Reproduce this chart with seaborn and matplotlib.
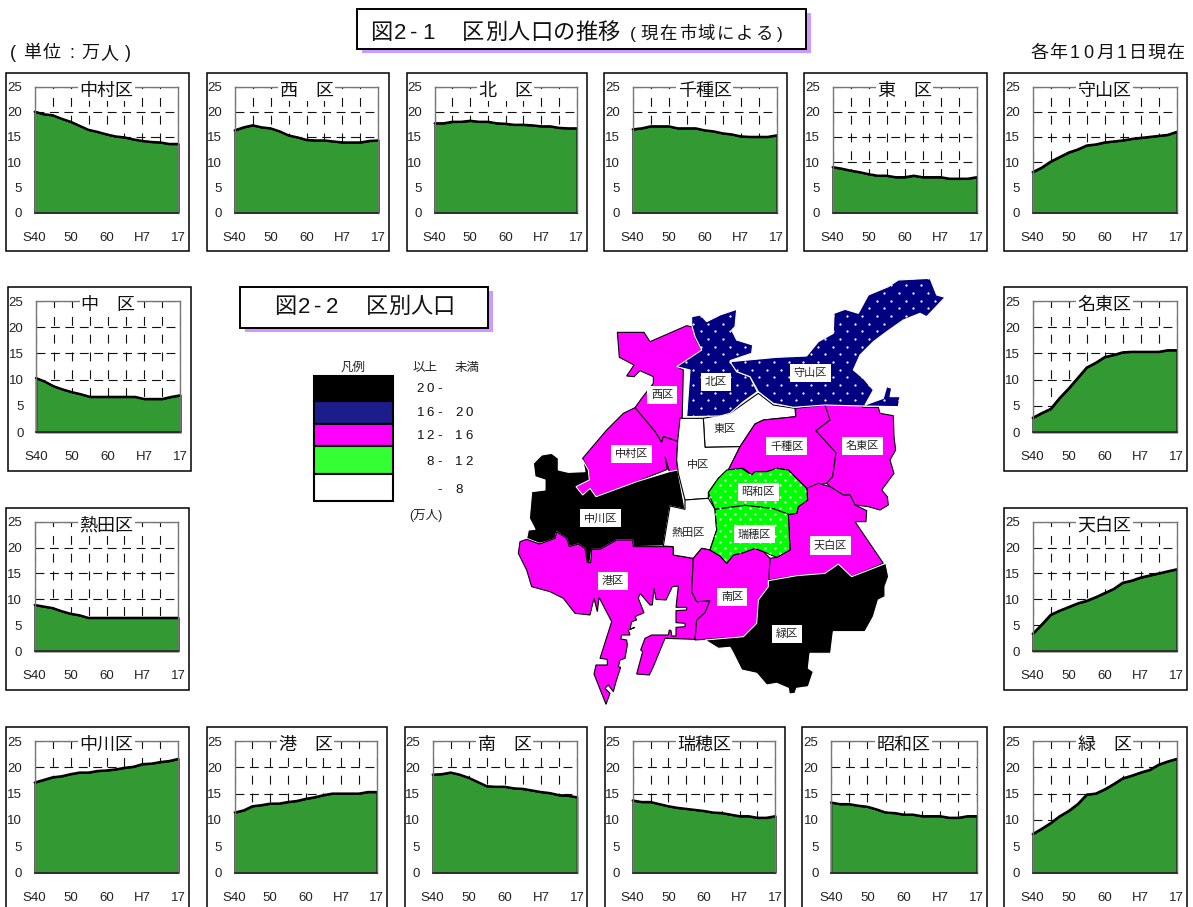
#!/usr/bin/env python3
"""
Ward population trends and ward population map
"""

import pandas as pd
import matplotlib
matplotlib.use('Agg')
import matplotlib.pyplot as plt
import seaborn as sns
import numpy as np
from matplotlib.patches import Polygon, Rectangle

W, H = 1193, 907
JP = ['Noto Sans CJK JP', 'DejaVu Sans']
MIXED = ['Liberation Sans', 'Noto Sans CJK JP', 'DejaVu Sans']

sns.set_theme(style='white')
plt.rcParams['font.family'] = MIXED

# Population (10,000 people), one value every 2.5 years from S40 to H17
nakamura = [20, 19.5, 19.3, 18.6, 18, 17.2, 16.4, 16, 15.5, 15.1, 14.9, 14.5, 14.2, 14, 13.9, 13.6, 13.6]
nishi = [16.3, 16.9, 17.3, 16.9, 16.7, 16.1, 15.3, 14.9, 14.4, 14.3, 14.3, 14.1, 13.9, 13.9, 13.9, 14.2, 14.3]
kita = [17.7, 17.7, 18, 18, 18.2, 18, 18, 17.7, 17.6, 17.4, 17.4, 17.3, 17.1, 17.1, 16.8, 16.7, 16.7]
chikusa = [16.5, 16.7, 17.1, 17.1, 17.1, 16.7, 16.7, 16.7, 16.3, 16.1, 15.7, 15.5, 15.1, 15, 15, 15, 15.3]
higashi = [9, 8.7, 8.3, 8, 7.6, 7.3, 7.3, 7, 7, 7.3, 7, 7, 7, 6.7, 6.7, 6.7, 7]
moriyama = [8, 8.9, 10.1, 11, 11.9, 12.5, 13.3, 13.5, 13.9, 14.1, 14.3, 14.6, 14.8, 15, 15.2, 15.4, 16]
naka = [10.3, 9.6, 8.7, 8.1, 7.6, 7.2, 6.7, 6.7, 6.7, 6.7, 6.7, 6.7, 6.3, 6.3, 6.3, 6.7, 7]
atsuta = [8.9, 8.6, 8.3, 7.7, 7.2, 6.9, 6.4, 6.4, 6.4, 6.4, 6.4, 6.4, 6.4, 6.4, 6.4, 6.4, 6.4]
meito = [2.7, 3.6, 4.4, 6.5, 8.3, 10.3, 12.3, 13.2, 14.3, 14.7, 15.2, 15.3, 15.3, 15.3, 15.3, 15.6, 15.6]
tempaku = [3.3, 5.1, 7, 7.8, 8.5, 9.2, 9.7, 10.4, 11.2, 12, 13.2, 13.6, 14.2, 14.6, 15, 15.4, 15.8]
nakagawa = [17.1, 17.6, 18.1, 18.3, 18.7, 19, 19, 19.3, 19.4, 19.6, 19.9, 20.1, 20.6, 20.7, 21, 21.2, 21.6]
minato = [11.4, 11.8, 12.6, 12.8, 13.1, 13.1, 13.4, 13.6, 14, 14.3, 14.7, 15, 15, 15, 15, 15.3, 15.3]
minami = [18.6, 18.7, 19, 18.6, 18, 17.2, 16.4, 16.3, 16.3, 16, 15.9, 15.6, 15.3, 15.1, 14.7, 14.6, 14.3]
mizuho = [13.7, 13.4, 13.4, 13, 12.6, 12.3, 12.1, 11.9, 11.7, 11.4, 11.3, 11, 10.7, 10.7, 10.4, 10.4, 10.7]
showa = [13.3, 13, 13, 12.7, 12.5, 12, 11.4, 11.3, 11, 11, 10.7, 10.7, 10.7, 10.4, 10.4, 10.7, 10.7]
midori = [7.3, 8.3, 9.4, 10.7, 11.7, 13, 14.8, 15, 15.8, 16.8, 17.9, 18.4, 19, 19.5, 20.5, 21.1, 21.6]

period = list(range(17))
x_ticks = [0, 2, 4, 6, 8, 10, 12, 14, 16]
x_labels = ['S40', '', '50', '', '60', '', 'H7', '', '17']
y_ticks = [0, 5, 10, 15, 20, 25]

# title, values, box (left, top, right, bottom), plot area (left, top, right, bottom) in pixels
panels = [
    ('中村区', nakamura, (6, 72.5, 189, 251), (34.7, 86.5, 178.3, 212.5)),
    ('西　区', nishi, (207, 72.5, 389, 251), (234.7, 86.5, 378.3, 212.5)),
    ('北　区', kita, (406.7, 72.5, 587, 251), (434.7, 86.5, 576.7, 212.5)),
    ('千種区', chikusa, (604, 72.5, 787, 251), (632.7, 86.5, 776.7, 212.5)),
    ('東　区', higashi, (804.3, 72.5, 987, 251), (832.7, 86.5, 976.7, 212.5)),
    ('守山区', moriyama, (1004, 72.5, 1187, 251), (1032.7, 86.5, 1176.7, 212.5)),
    ('中　区', naka, (8, 287, 190.7, 471), (36, 301, 180.3, 432)),
    ('名東区', meito, (1004.3, 287, 1187.3, 471), (1032.7, 301, 1176.7, 432)),
    ('熱田区', atsuta, (6, 507.7, 189, 690), (34.7, 521.7, 178.3, 651)),
    ('天白区', tempaku, (1004.3, 507.7, 1187.3, 690), (1032.7, 521.7, 1176.7, 651)),
    ('中川区', nakagawa, (6, 727, 189, 912), (34.7, 741, 178.3, 872.5)),
    ('港　区', minato, (206.7, 727, 387, 912), (234.7, 741, 376.7, 872.5)),
    ('南　区', minami, (404.7, 727, 587.3, 912), (432.7, 741, 577, 872.5)),
    ('瑞穂区', mizuho, (604.7, 727, 785.3, 912), (632.7, 741, 775.3, 872.5)),
    ('昭和区', showa, (802.3, 727, 987.3, 912), (831, 741, 976.7, 872.5)),
    ('緑　区', midori, (1004, 727, 1187, 912), (1032.7, 741, 1176.7, 872.5)),
]

# Legend
legend_colors = ['#000000', '#1c1c8c', '#ff00ff', '#33ff33', '#ffffff']
legend_from = ['20-', '16-', '12-', '8-', '-']
legend_to = ['', '20', '16', '12', '8']

# Map colours
MAGENTA, NAVY, GREEN, BLACK, WHITE = '#ff00ff', '#000080', '#00ff00', '#000000', '#ffffff'

# Ward outlines in map units (map frame is 1350 x 1320)
nishi_shape = [(322, 187), (402, 187), (420, 215), (530, 167), (552, 172), (556, 205), (575, 240), (500, 290), (520, 300),
               (515, 510), (503, 514), (460, 500), (455, 517), (435, 485), (375, 413), (395, 385), (430, 340), (430, 320),
               (390, 302), (372, 320), (350, 318), (372, 285), (328, 262)]
kita_shape = [(545, 140), (572, 135), (590, 155), (630, 135), (680, 118), (675, 170), (665, 180), (680, 210), (728, 225),
              (725, 250), (695, 260), (660, 272), (680, 305), (720, 320), (742, 365), (700, 395), (660, 430), (630, 438),
              (530, 440), (540, 300), (500, 290), (575, 240), (555, 200), (545, 165)]
moriyama_shape = [(660, 275), (800, 262), (890, 258), (925, 215), (970, 190), (972, 130), (1005, 118), (1045, 130), (1075, 75),
                  (1135, 50), (1165, 30), (1260, 25), (1280, 75), (1305, 82), (1250, 140), (1230, 130), (1180, 150), (1130, 185),
                  (1090, 215), (1050, 255), (1030, 300), (1060, 325), (1090, 360), (1065, 405), (1120, 385), (1130, 350),
                  (1145, 355), (1140, 380), (1170, 380), (1165, 410), (1060, 408), (945, 405), (850, 412), (790, 400), (745, 365),
                  (720, 320), (680, 305)]
higashi_shape = [(580, 445), (660, 430), (745, 370), (790, 405), (855, 415), (857, 440), (760, 450), (735, 462), (690, 530), (585, 532)]
chikusa_shape = [(690, 530), (735, 462), (760, 450), (857, 440), (857, 415), (945, 405), (960, 450), (918, 482), (978, 548),
                 (968, 620), (950, 640), (905, 650), (890, 655), (860, 625), (835, 600), (800, 595), (770, 605), (735, 605),
                 (725, 615), (700, 595), (655, 600)]
meito_shape = [(945, 405), (975, 380), (1050, 405), (1060, 412), (1105, 412), (1110, 430), (1150, 437), (1152, 500), (1157, 540),
               (1140, 570), (1152, 610), (1115, 660), (1132, 680), (1135, 705), (1110, 720), (1075, 710), (1035, 705), (1020, 675),
               (1000, 675), (960, 650), (950, 640), (968, 620), (978, 548), (918, 482), (960, 450)]
showa_shape = [(595, 668), (625, 625), (650, 600), (695, 595), (725, 615), (735, 605), (770, 605), (800, 595), (835, 600),
               (860, 625), (890, 655), (893, 690), (865, 710), (860, 730), (835, 733), (790, 716), (705, 706), (615, 718)]
mizuho_shape = [(615, 718), (705, 706), (790, 716), (835, 733), (840, 840), (800, 862), (760, 845), (735, 835), (700, 848),
                (670, 855), (650, 880), (630, 858), (600, 840), (620, 780)]
tempaku_shape = [(890, 655), (925, 640), (960, 650), (1000, 675), (1020, 675), (1035, 705), (1070, 722), (1068, 755), (1035, 755),
                 (1120, 880), (1025, 920), (985, 882), (945, 910), (860, 917), (775, 930), (780, 865), (800, 862), (840, 840),
                 (835, 733), (860, 730), (865, 710), (893, 690)]
midori_shape = [(775, 932), (860, 917), (945, 910), (985, 882), (1025, 920), (1128, 880), (1136, 920), (1125, 950), (1125, 980),
                (1105, 990), (1090, 1040), (1065, 1085), (1020, 1085), (970, 1085), (962, 1150), (900, 1150), (895, 1195),
                (910, 1205), (895, 1250), (860, 1255), (855, 1270), (838, 1272), (835, 1255), (800, 1240), (770, 1245),
                (740, 1210), (695, 1200), (670, 1150), (660, 1132), (625, 1135), (585, 1110), (700, 1100), (740, 1060), (745, 990),
                (775, 950)]
minami_shape = [(550, 865), (575, 835), (600, 840), (630, 858), (650, 880), (670, 855), (700, 848), (735, 835), (760, 845),
                (780, 865), (775, 950), (745, 990), (740, 1060), (700, 1100), (555, 1110), (560, 1050), (585, 1028), (600, 992),
                (560, 995), (545, 965)]
atsuta_shape = [(480, 708), (525, 718), (525, 690), (595, 685), (615, 718), (620, 780), (600, 840), (575, 835), (550, 865),
                (490, 855), (490, 830), (460, 828)]
naka_shape = [(510, 445), (580, 445), (585, 532), (690, 530), (655, 600), (625, 625), (595, 668), (595, 685), (525, 690),
              (505, 610), (500, 570), (503, 514)]
nakamura_shape = [(375, 413), (435, 485), (455, 517), (460, 500), (503, 514), (500, 570), (503, 600), (478, 605), (465, 560),
                  (472, 598), (380, 635), (258, 680), (240, 655), (218, 675), (198, 650), (238, 630), (235, 600), (218, 565),
                  (290, 480), (340, 430)]
nakagawa_shape = [(70, 580), (95, 555), (125, 550), (145, 565), (145, 600), (175, 607), (225, 605), (218, 570), (235, 600),
                  (238, 630), (198, 650), (218, 675), (240, 655), (258, 680), (380, 635), (478, 605), (503, 600), (520, 690),
                  (525, 718), (480, 708), (460, 828), (370, 830), (368, 810), (320, 810), (270, 838), (245, 838), (240, 878),
                  (230, 878), (225, 835), (205, 822), (178, 830), (170, 805), (140, 785), (135, 805), (108, 815), (88, 820),
                  (50, 805), (55, 780), (75, 778), (58, 745), (65, 665), (105, 660), (105, 630), (75, 620)]
minato_shape = [(30, 815), (50, 808), (88, 822), (108, 815), (135, 805), (140, 785), (170, 805), (178, 830), (205, 822), (225, 835),
                (232, 878), (242, 878), (245, 838), (270, 838), (320, 810), (368, 810), (370, 830), (490, 830), (490, 855),
                (550, 865), (545, 965), (560, 995), (600, 992), (585, 1028), (560, 1050), (555, 1108), (465, 1105), (430, 1190),
                (418, 1215), (380, 1212), (398, 1145), (392, 1140), (405, 1105), (425, 1095), (475, 1095), (478, 1080), (483, 1082),
                (485, 1098), (498, 1098), (498, 1072), (525, 1070), (525, 1060), (498, 1058), (498, 1022), (530, 1020), (530, 1012),
                (498, 1012), (505, 948), (487, 950), (468, 990), (438, 988), (432, 955), (427, 1005), (420, 1005), (390, 970),
                (385, 985), (402, 1028), (375, 1040), (380, 1050), (365, 1055), (360, 1078), (375, 1072), (355, 1080), (360, 1095),
                (335, 1095), (332, 1107), (350, 1110), (352, 1125), (345, 1165), (330, 1170), (325, 1190), (332, 1192), (318, 1235),
                (310, 1265), (295, 1245), (285, 1255), (300, 1270), (288, 1303), (252, 1212), (258, 1185), (292, 1185), (292, 1168),
                (270, 1165), (305, 1055), (267, 982), (262, 1025), (252, 985), (240, 1035), (195, 1030), (160, 985), (120, 965),
                (65, 950), (50, 900), (25, 850)]

# shape, colour, outline, label, label x, label y
wards = [
    (nishi_shape, MAGENTA, BLACK, '西区', 456, 376),
    (nakamura_shape, MAGENTA, BLACK, '中村区', 365, 552),
    (nakagawa_shape, BLACK, WHITE, '中川区', 271, 745),
    (minato_shape, MAGENTA, BLACK, '港区', 309, 934),
    (higashi_shape, WHITE, BLACK, '東区', 645, 476),
    (naka_shape, WHITE, BLACK, '中区', 565, 586),
    (atsuta_shape, WHITE, BLACK, '熱田区', 535, 790),
    (chikusa_shape, MAGENTA, BLACK, '千種区', 830, 529),
    (meito_shape, MAGENTA, BLACK, '名東区', 1057, 529),
    (tempaku_shape, MAGENTA, BLACK, '天白区', 962, 826),
    (minami_shape, MAGENTA, BLACK, '南区', 666, 980),
    (midori_shape, BLACK, WHITE, '緑区', 832, 1092),
    (kita_shape, NAVY, WHITE, '北区', 618, 335),
    (moriyama_shape, NAVY, WHITE, '守山区', 901, 308),
    (showa_shape, GREEN, BLACK, '昭和区', 745, 667),
    (mizuho_shape, GREEN, BLACK, '瑞穂区', 733, 793),
]


def axes_px(left, top, right, bottom, **kw):
    return fig.add_axes([left / W, 1 - bottom / H, (right - left) / W, (bottom - top) / H], **kw)


def spaced(x, y, s, size, wide, narrow=12):
    # letter spaced text, x is the left edge and y the baseline in pixels
    for ch in s:
        step = narrow if ord(ch) < 128 else wide
        bg.text(x + step / 2, y, ch, ha='center', va='baseline', fontsize=size, color='#111111', family=MIXED)
        x += step


def title_box(left, top, right, bottom):
    bg.add_patch(Rectangle((left + 5, top + 4), right - left, bottom - top, fc='#cc99ff', ec='none'))
    bg.add_patch(Rectangle((left, top), right - left, bottom - top, fc='white', ec='black', lw=1.4))


fig = plt.figure(figsize=(W / 100, H / 100), dpi=100, facecolor='white')

# Page level layer in pixel coordinates
bg = axes_px(0, 0, W, H, zorder=0)
bg.set_xlim(0, W)
bg.set_ylim(H, 0)
bg.axis('off')

# Figure 2-1 heading
title_box(356.7, 9.3, 805.7, 49)
spaced(369, 39, '図2-1', 16, 24, 14)
spaced(462, 39, '区別人口の推移', 16, 22.6)
spaced(626, 39, '(現在市域による)', 12.5, 19, 14)
spaced(6, 58, '(', 13, 19, 14)
spaced(23, 58, '単位', 13, 19)
spaced(65, 58, ':', 13, 19, 14)
spaced(81, 58, '万人', 13, 19)
spaced(121, 58, ')', 13, 19, 14)
spaced(1030, 58, '各年10月1日現在', 13, 18.5, 14.5)

# Figure 2-2 heading
title_box(240, 287.3, 488, 328.3)
spaced(273, 313, '図2-2', 16, 24, 14)
spaced(366, 313, '区別人口', 16, 22)

# Small multiples
for title, values, box, area in panels:
    bg.add_patch(Rectangle((box[0], box[1]), box[2] - box[0], box[3] - box[1], fc='white', ec='black', lw=1.1))

    # grid and area underneath
    ax = axes_px(*area, zorder=2)
    df = pd.DataFrame({'period': period, 'population': values})
    ax.fill_between(df['period'], df['population'], 0, color='#339933', ec='black', lw=1.2, zorder=2, clip_on=False)
    sns.lineplot(data=df, x='period', y='population', ax=ax, color='black', lw=1.7, zorder=3, clip_on=False)
    ax.set_xlim(0, 16)
    ax.set_ylim(0, 25)
    ax.set_xlabel('')
    ax.set_ylabel('')
    ax.set_xticks(x_ticks)
    ax.set_yticks(y_ticks)
    ax.tick_params(length=0, labelbottom=False, labelleft=False)
    ax.set_axisbelow(True)
    ax.grid(True, axis='y', color='#111111', lw=0.8, linestyle=(0, (8, 5)))
    ax.grid(True, axis='x', color='#111111', lw=0.8, linestyle=(0, (8, 8)))
    sns.despine(ax=ax, left=True, bottom=True)

    # ticks, labels and frame above the area
    top = axes_px(*area, zorder=3)
    top.patch.set_alpha(0)
    top.set_xlim(0, 16)
    top.set_ylim(0, 25)
    top.set_xticks(x_ticks)
    top.set_xticklabels(x_labels)
    top.set_yticks(y_ticks)
    top.tick_params(axis='x', direction='in', length=3.5, width=0.9, color='#333333', pad=14,
                    labelsize=9.5, labelcolor='#222222')
    top.tick_params(axis='y', direction='in', length=3.5, width=0.9, color='#333333', pad=9,
                    labelsize=9.5, labelcolor='#222222')
    for spine in top.spines.values():
        spine.set_color('#777777')
        spine.set_linewidth(1.0)
    top.spines['bottom'].set_color('#333333')
    top.spines['bottom'].set_linewidth(1.3)
    top.text(0.5, 0.968, title, transform=top.transAxes, ha='center', va='center', fontsize=13, color='#111111',
             family=JP, zorder=5, bbox=dict(fc='white', ec='none', pad=1.0))

# Legend
legend_top = [376, 400.7, 423.7, 446, 474]
legend_bottom = [400.7, 423.7, 446, 474, 501]
for color, y0, y1 in zip(legend_colors, legend_top, legend_bottom):
    bg.add_patch(Rectangle((314, y0), 78.5, y1 - y0, fc=color, ec='black', lw=1.5))
bg.text(353, 367, '凡例', ha='center', va='center', fontsize=9, family=JP, color='#222222')
bg.text(425, 367, '以上', ha='center', va='center', fontsize=9, family=JP, color='#222222')
bg.text(467, 367, '未満', ha='center', va='center', fontsize=9, family=JP, color='#222222')
for label_a, label_b, y in zip(legend_from, legend_to, [392, 416, 439, 465, 493]):
    wide_a = len(label_a) * 9.5
    spaced(444 - wide_a, y, label_a, 9.5, 0, 9.5)
    spaced(454, y, label_b, 9.5, 0, 10)
bg.text(425.5, 516, '(万人)', ha='center', va='center', fontsize=9, family=MIXED, color='#222222')

# Ward map
mp = axes_px(510, 270, 960, 710, zorder=1)
mp.set_xlim(0, 1350)
mp.set_ylim(1320, 0)
mp.axis('off')
for shape, color, outline, label, lx, ly in wards:
    patch = Polygon(shape, closed=True, fc=color, ec=outline, lw=0.8, zorder=2)
    mp.add_patch(patch)
    if color in (NAVY, GREEN):
        # white dot screen of the two patterned classes
        step_x, step_y = (44, 23) if color == NAVY else (30, 17)
        dot_x, dot_y = [], []
        for row, yy in enumerate(np.arange(0, 1320, step_y)):
            for xx in np.arange(row % 2 * step_x / 2, 1350, step_x):
                dot_x.append(xx)
                dot_y.append(yy)
        dots = mp.scatter(dot_x, dot_y, s=2.6, color='white', lw=0, zorder=3)
        dots.set_clip_path(patch)
    mp.text(lx, ly, label, ha='center', va='center', fontsize=8, color='#222222', family=JP, zorder=5,
            bbox=dict(fc='white', ec='none', pad=2.8))

fig.savefig('out.png', dpi=100)
plt.close(fig)
